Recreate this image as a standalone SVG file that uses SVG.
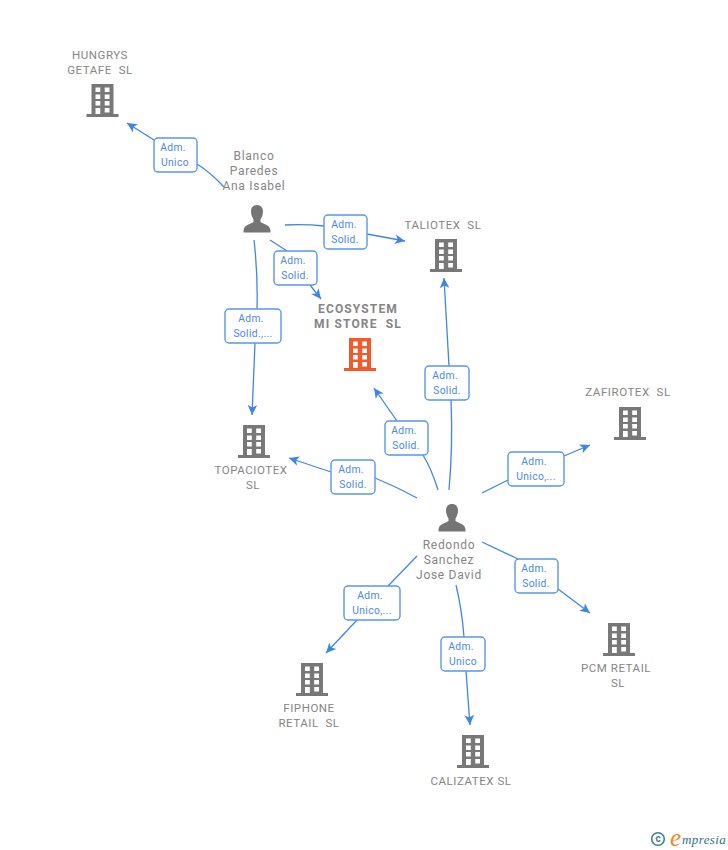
<svg xmlns="http://www.w3.org/2000/svg" width="728" height="850" viewBox="0 0 728 850">
<style>
text{font-family:Roboto,"Liberation Sans",sans-serif}
.n{font-size:11.5px;fill:#858585;text-anchor:middle;letter-spacing:.55px}
.p{font-size:12px;fill:#858585;text-anchor:middle;letter-spacing:.7px}
.f{font-size:12px;font-weight:700;fill:#858585;text-anchor:middle;letter-spacing:1.15px}
.b{fill:#fff;stroke:#5a96e6;stroke-width:1.4}
.l{font-size:10.300px;fill:#4a8ae2;text-anchor:middle;letter-spacing:.35px}
.c{fill:none;stroke:#3f86e2;stroke-width:1.3}
.a{marker-end:url(#ah)}
</style>
<defs>
<marker id="ah" markerUnits="userSpaceOnUse" markerWidth="14" markerHeight="14" refX="10" refY="6" orient="auto">
<path d="M0,1.200L10,6L0,10.800L2.600,6Z" fill="#3f86e2"/>
</marker>
<g id="bl">
<path fill-rule="evenodd" d="M-11,0H11V30H16V33H-16V30H-11ZM-7,3.500V8H-2.200V3.500ZM2.200,3.500V8H7V3.500ZM-7,10.500V15H-2.200V10.500ZM2.200,10.500V15H7V10.500ZM-7,17V21.500H-2.200V17ZM2.200,17V21.500H7V17ZM-7,24V30H-2.200V24ZM2.200,24V28.500H7V24Z"/>
</g>
<path id="pn" d="M0,0C-4.200,0 -6,3 -6,6.500C-6,10 -4.500,13 -3.500,14.500V17C-6.500,19 -13.500,20 -13.500,26V27.500H13.500V26C13.500,20 6.500,19 3.500,17V14.500C4.500,13 6,10 6,6.500C6,3 4.200,0 0,0Z" fill="#757575"/>
</defs>
<g id="connectors">
<path class="c" d="M224,187Q210,172 197,164"/><path class="c a" d="M154,140L127,123"/>
<path class="c" d="M285,225Q305,224 324,226"/><path class="c a" d="M367,234L405,241"/>
<path class="c" d="M270,240L287,251"/><path class="c a" d="M310,285L321,299"/>
<path class="c" d="M254,240Q258,275 257,309"/><path class="c a" d="M255,343L252,415"/>
<path class="c" d="M449,490Q453,445 451,400"/><path class="c a" d="M449,366L444,278"/>
<path class="c" d="M438,490Q432,470 423,455"/><path class="c a" d="M397,421L374,388"/>
<path class="c" d="M417,498Q397,487 375,478"/><path class="c a" d="M331,472L289,458"/>
<path class="c" d="M482,493L508,480"/><path class="c a" d="M564,456L590,445"/>
<path class="c" d="M482,542L518,559"/><path class="c a" d="M558,589L590,613"/>
<path class="c" d="M456,585Q462,610 464,637"/><path class="c a" d="M466,671L470,725"/>
<path class="c" d="M417,556L388,586"/><path class="c a" d="M357,620L326,653"/>
</g>
<g id="edge-labels">
<rect class="b" x="154" y="138" width="43" height="34" rx="4"/><text class="l" x="173" y="151">Adm.</text><text class="l" x="175" y="166">Unico</text>
<rect class="b" x="324" y="215" width="43" height="34" rx="4"/><text class="l" x="344" y="228">Adm.</text><text class="l" x="345" y="243">Solid.</text>
<rect class="b" x="274" y="251" width="43" height="34" rx="4"/><text class="l" x="293" y="264">Adm.</text><text class="l" x="295" y="279">Solid.</text>
<rect class="b" x="225" y="309" width="56" height="34" rx="4"/><text class="l" x="251" y="322">Adm.</text><text class="l" x="253" y="337">Solid.,...</text>
<rect class="b" x="425" y="366" width="44" height="34" rx="4"/><text class="l" x="445" y="379">Adm.</text><text class="l" x="447" y="394">Solid.</text>
<rect class="b" x="385" y="421" width="43" height="34" rx="4"/><text class="l" x="404" y="434">Adm.</text><text class="l" x="406" y="449">Solid.</text>
<rect class="b" x="331" y="460" width="44" height="34" rx="4"/><text class="l" x="351" y="473">Adm.</text><text class="l" x="353" y="488">Solid.</text>
<rect class="b" x="508" y="452" width="56" height="34" rx="4"/><text class="l" x="534" y="465">Adm.</text><text class="l" x="536" y="480">Unico,...</text>
<rect class="b" x="515" y="559" width="43" height="34" rx="4"/><text class="l" x="534" y="572">Adm.</text><text class="l" x="536" y="587">Solid.</text>
<rect class="b" x="441" y="637" width="44" height="34" rx="4"/><text class="l" x="461" y="650">Adm.</text><text class="l" x="463" y="665">Unico</text>
<rect class="b" x="344" y="586" width="56" height="34" rx="4"/><text class="l" x="370" y="599">Adm.</text><text class="l" x="372" y="614">Unico,...</text>
</g>
<g id="hungrys"><text class="n" x="100" y="59">HUNGRYS</text><text class="n" x="100" y="74" xml:space="preserve">GETAFE  SL</text><use href="#bl" x="102.500" y="84" fill="#787878"/></g>
<g id="taliotex"><text class="n" x="443" y="229" xml:space="preserve">TALIOTEX  SL</text><use href="#bl" x="446" y="239" fill="#787878"/></g>
<g id="ecosystem"><text class="f" x="358" y="313">ECOSYSTEM</text><text class="f" x="358" y="328" xml:space="preserve">MI STORE  SL</text><use href="#bl" x="360" y="338" fill="#f4592c"/></g>
<g id="topaciotex"><use href="#bl" x="254" y="425" fill="#787878"/><text class="n" x="251" y="474">TOPACIOTEX</text><text class="n" x="253" y="489">SL</text></g>
<g id="zafirotex"><text class="n" x="628" y="396" xml:space="preserve">ZAFIROTEX  SL</text><use href="#bl" x="630" y="407" fill="#787878"/></g>
<g id="pcm"><use href="#bl" x="619" y="623" fill="#787878"/><text class="n" x="616" y="672">PCM RETAIL</text><text class="n" x="618" y="687">SL</text></g>
<g id="fiphone"><use href="#bl" x="312" y="663" fill="#787878"/><text class="n" x="309" y="712">FIPHONE</text><text class="n" x="309" y="727" xml:space="preserve">RETAIL  SL</text></g>
<g id="calizatex"><use href="#bl" x="473" y="735" fill="#787878"/><text class="n" x="471" y="785">CALIZATEX SL</text></g>
<g id="blanco"><text class="p" x="254" y="160">Blanco</text><text class="p" x="254" y="175">Paredes</text><text class="p" x="254" y="190">Ana Isabel</text><use href="#pn" x="257" y="205"/></g>
<g id="redondo"><use href="#pn" x="452" y="504"/><text class="p" x="449" y="549">Redondo</text><text class="p" x="449" y="564">Sanchez</text><text class="p" x="449" y="579">Jose David</text></g>
<g id="logo"><circle cx="658" cy="839" r="6.300" fill="none" stroke="#3e7d96" stroke-width="1.600"/><text x="658" y="842" font-size="10" font-weight="700" fill="#3e7d96" text-anchor="middle">c</text><text x="670" y="846" font-size="25" font-style="italic" fill="#f08a1d" style="font-family:'Liberation Serif',serif">e</text><text x="682" y="844" font-size="13" font-style="italic" fill="#2f6f8a" style="font-family:'Liberation Serif',serif;letter-spacing:.4px">mpresia</text></g>
</svg>
